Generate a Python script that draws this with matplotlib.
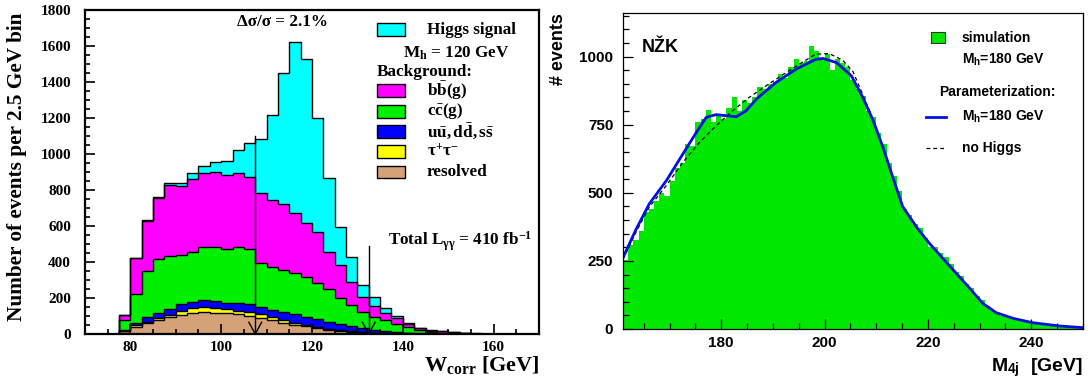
import numpy as np
import matplotlib.pyplot as plt
from matplotlib.patches import Rectangle
from matplotlib.ticker import MultipleLocator

# ---- left panel: W_corr, stacked, 2.5 GeV bins starting at 77.5 GeV
w_start = 77.5
w_bin = 2.5
resolved = [15, 41, 59, 78, 93, 106, 115, 120, 118, 115, 109, 100, 87, 78, 63, 52,
            44, 35, 25, 17, 13, 9, 6, 4, 3, 2, 1, 1, 0, 0, 0, 0]
tautau = [3, 9, 10, 9, 13, 24, 28, 32, 28, 22, 21, 22, 23, 14, 15, 10,
          4, 3, 3, 3, 2, 2, 1, 1, 1, 1, 1, 0, 1, 0, 0, 0]
light_qq = [4, 9, 23, 31, 31, 35, 36, 37, 39, 38, 42, 44, 38, 41, 43, 49,
            48, 44, 40, 35, 30, 24, 18, 13, 8, 5, 3, 2, 1, 1, 1, 0]
ccg = [56, 163, 260, 297, 296, 274, 278, 296, 296, 297, 309, 304, 248, 241, 235, 226,
       223, 199, 180, 143, 116, 89, 71, 60, 43, 30, 15, 9, 6, 4, 2, 1]
bbg = [27, 198, 278, 342, 395, 383, 402, 407, 417, 413, 415, 400, 385, 370, 366, 333,
       300, 283, 209, 185, 130, 83, 60, 41, 32, 18, 12, 7, 6, 4, 2, 1]
higgs = [0, 2, 5, 6, 10, 19, 33, 43, 59, 78, 126, 193, 300, 473, 730, 954,
         907, 634, 408, 210, 139, 65, 51, 23, 13, 3, 3, 3, 4, 3, 2, 1]
cut_pos = [107.5, 132.5]
cut_top = [1100, 490]

# ---- right panel: M_4j, 1 GeV bins starting at 161 GeV
m_start = 161
m_bin = 1.0
simulation = [255, 310, 325, 360, 430, 440, 470, 500, 490, 545,
              590, 610, 680, 670, 760, 770, 805, 760, 790, 770,
              810, 850, 800, 840, 830, 850, 890, 880, 900, 905,
              935, 920, 960, 990, 975, 985, 1040, 1020, 990, 1010,
              950, 990, 975, 960, 915, 880, 855, 800, 780, 720,
              680, 610, 560, 505, 440, 420, 385, 370, 335, 300,
              300, 280, 265, 240, 210, 195, 165, 150, 120, 108,
              85, 68, 60, 48, 45, 36, 33, 29, 27, 22,
              21, 17, 14, 13, 10, 9, 8, 6, 5]
param_m = [161, 163.5, 166.1, 169.4, 172.6, 175.2, 177.1, 179.0, 181.0, 182.9, 184.8,
           186.8, 190.6, 194.5, 198.3, 199.7, 202.3, 205.2, 207.4, 209.4, 211.3,
           213.2, 215.1, 217.8, 220.3, 222.9, 225.5, 228.1, 230.6, 233.2, 236.5,
           240.3, 245.5, 250]
param_h180 = [262, 365, 460, 545, 643, 722, 777, 787, 783, 779, 801,
              844, 905, 954, 990, 993, 978, 929, 850, 765, 667,
              557, 450, 374, 314, 259, 204, 149, 94, 60, 39,
              23, 11, 5]
nohiggs_m = [161, 163.5, 166.1, 169.4, 172.6, 175.8, 179.0, 182.2, 185.4, 188.7, 191.9,
             195.1, 198.3, 200.9, 203.5, 205.5, 207.4, 209.4, 211.3, 213.2, 215.1,
             217.8, 220.3, 222.9, 225.5, 228.1, 230.6, 233.2, 236.5, 240.3, 245.5, 250]
nohiggs = [255, 355, 448, 527, 612, 685, 746, 801, 850, 893, 933,
           972, 1009, 1011, 987, 945, 860, 768, 667, 557, 450,
           374, 314, 259, 204, 149, 94, 60, 39, 23, 11, 5]

SERIF = 'Liberation Serif'
SANS = 'Liberation Sans'

plt.rcParams['mathtext.fontset'] = 'custom'
plt.rcParams['mathtext.rm'] = 'Liberation Serif:bold'
plt.rcParams['mathtext.bf'] = 'Liberation Serif:bold'
plt.rcParams['mathtext.it'] = 'Liberation Serif:bold:italic'
plt.rcParams['mathtext.sf'] = 'Liberation Sans:bold'
plt.rcParams['mathtext.default'] = 'bf'


def style_ticks(ax, family, size):
    for lab in ax.get_xticklabels() + ax.get_yticklabels():
        lab.set_fontfamily(family)
        lab.set_fontweight('bold')
        lab.set_fontsize(size)


def draw_wcorr(ax):
    edges = w_start + w_bin * np.arange(len(resolved) + 1)
    layers = np.array([resolved, tautau, light_qq, ccg, bbg, higgs], dtype=float)
    colors = ['#d4a276', '#ffff00', '#0000ff', '#00f000', '#ff00ff', '#00ffff']
    tops = np.cumsum(layers, axis=0)
    bottom = np.zeros(len(resolved))
    for top, c in zip(tops, colors):
        ax.stairs(top, edges, baseline=bottom, fill=True, color=c, lw=0)
        bottom = top
    for top in tops:
        ax.stairs(top, edges, baseline=0, color='black', lw=1.0)

    # cut arrows
    for x, t in zip(cut_pos, cut_top):
        ax.plot([x, x], [0, t], color='black', lw=1.0)
        ax.plot([x - 1.4, x, x + 1.4], [65, 0, 65], color='black', lw=1.0)

    ax.set_xlim(70, 170)
    ax.set_ylim(0, 1800)
    ax.xaxis.set_major_locator(MultipleLocator(20))
    ax.xaxis.set_minor_locator(MultipleLocator(5))
    ax.yaxis.set_major_locator(MultipleLocator(200))
    ax.yaxis.set_minor_locator(MultipleLocator(50))
    ax.tick_params(which='both', direction='in', top=False, right=False, width=1.2)
    ax.tick_params(which='major', length=7)
    ax.tick_params(which='minor', length=3.5)
    ax.tick_params(axis='y', pad=10)
    ax.tick_params(axis='x', pad=5)
    for s in ax.spines.values():
        s.set_linewidth(1.6)
    style_ticks(ax, SERIF, 11)

    ax.set_ylabel('Number of events per 2.5 GeV bin', family=SERIF,
                  weight='bold', fontsize=15.3)
    ax.yaxis.set_label_coords(-0.128, 0.515)
    ax.set_xlabel(r'W$_{corr}$ [GeV]', family=SERIF, weight='bold',
                  fontsize=16, loc='right')
    ax.xaxis.set_label_coords(1.0, -0.062)

    tkw = dict(transform=ax.transAxes, family=SERIF, weight='bold', fontsize=12.3,
               va='center')
    ax.text(0.434, 0.963, 'Δσ/σ = 2.1%', ha='center', **tkw)
    ax.text(0.667, 0.287, r'Total L$_{\gamma\gamma}$ = 410 fb$^{-1}$', ha='left', **tkw)

    # legend
    bx, bw, bh = 0.643, 0.062, 0.040
    ax.add_patch(Rectangle((bx, 0.940 - bh / 2), bw, bh, transform=ax.transAxes,
                           facecolor=colors[5], edgecolor='black', lw=1.0))
    ax.text(0.753, 0.937, 'Higgs signal', ha='left', **tkw)
    ax.text(0.700, 0.867, r'M$_{h}$ = 120 GeV', ha='left', **tkw)
    ax.text(0.643, 0.809, 'Background:', ha='left', **tkw)
    names = [r'$b\bar{b}(g)$', r'$c\bar{c}(g)$', r'$u\bar{u},d\bar{d},s\bar{s}$',
             r'$\tau^{+}\tau^{-}$', 'resolved']
    ys = [0.753, 0.688, 0.625, 0.562, 0.500]
    for name, y, c in zip(names, ys, colors[4::-1]):
        ax.add_patch(Rectangle((bx, y - bh / 2), bw, bh, transform=ax.transAxes,
                               facecolor=c, edgecolor='black', lw=1.0))
        ax.text(0.753, y, name, ha='left', **tkw)


def draw_m4j(ax):
    edges = m_start + m_bin * np.arange(len(simulation) + 1)
    ax.stairs(simulation, edges, baseline=0, fill=True, color='#00e800', lw=0)
    ax.plot(nohiggs_m, nohiggs, color='black', lw=0.9, ls=(0, (3, 2.5)))
    ax.plot(param_m, param_h180, color='#0010e0', lw=2.0)

    ax.set_xlim(161, 250)
    ax.set_ylim(0, 1160)
    ax.xaxis.set_major_locator(MultipleLocator(20))
    ax.xaxis.set_minor_locator(MultipleLocator(5))
    ax.yaxis.set_major_locator(MultipleLocator(250))
    ax.yaxis.set_minor_locator(MultipleLocator(50))
    ax.tick_params(which='both', direction='in', top=False, right=False, width=0.9)
    ax.tick_params(which='major', length=7)
    ax.tick_params(which='minor', length=4)
    ax.tick_params(axis='y', pad=7)
    ax.tick_params(axis='x', pad=5)
    for s in ax.spines.values():
        s.set_linewidth(0.9)
    style_ticks(ax, SANS, 11)

    ax.set_ylabel('# events', family=SANS, weight='bold', fontsize=13, loc='top')
    ax.yaxis.set_label_coords(-0.122, 1.0)
    ax.set_xlabel(r'M$_{\mathsf{4j}}$  [GeV]', family=SANS, weight='bold',
                  fontsize=14, loc='right')
    ax.xaxis.set_label_coords(1.0, -0.085)

    tkw = dict(transform=ax.transAxes, family=SANS, weight='bold', va='center')
    ax.text(0.041, 0.892, 'NŽK', ha='left', fontsize=13, **tkw)
    ax.add_patch(Rectangle((0.670, 0.904), 0.031, 0.037, transform=ax.transAxes,
                           facecolor='#00e800', edgecolor='#333333', lw=0.8))
    ax.text(0.737, 0.921, 'simulation', ha='left', fontsize=10, **tkw)
    ax.text(0.737, 0.851, r'M$_{\mathsf{h}}$=180 GeV', ha='left', fontsize=10, **tkw)
    ax.text(0.687, 0.750, 'Parameterization:', ha='left', fontsize=10, **tkw)
    ax.plot([0.659, 0.702], [0.671, 0.671], transform=ax.transAxes,
            color='#0010e0', lw=2.0)
    ax.text(0.737, 0.671, r'M$_{\mathsf{h}}$=180 GeV', ha='left', fontsize=10, **tkw)
    ax.plot([0.659, 0.702], [0.573, 0.573], transform=ax.transAxes,
            color='black', lw=0.9, ls=(0, (3, 2.5)))
    ax.text(0.737, 0.573, 'no Higgs', ha='left', fontsize=10, **tkw)


def main():
    fig = plt.figure(figsize=(10.9, 3.87), dpi=100)
    W, H = 1090, 387
    ax1 = fig.add_axes([85 / W, (H - 334) / H, (539 - 85) / W, (334 - 10) / H])
    ax2 = fig.add_axes([623 / W, (H - 329) / H, (1083 - 623) / W, (329 - 13) / H])
    draw_wcorr(ax1)
    draw_m4j(ax2)
    fig.savefig('out.png', dpi=100)


if __name__ == "__main__":
    main()
